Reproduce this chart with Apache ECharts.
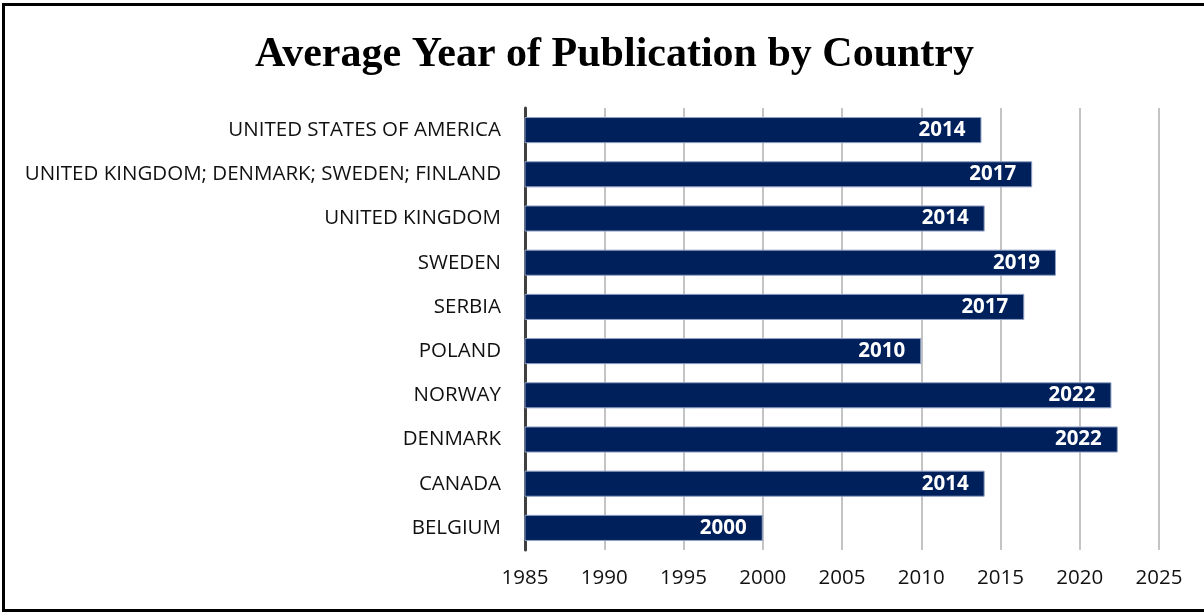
<!DOCTYPE html>
<html>
<head>
<meta charset="utf-8">
<script src="https://cdn.jsdelivr.net/npm/echarts@6/dist/echarts.min.js"></script>
<style>
  html, body { margin: 0; padding: 0; background: #ffffff; }
  #frame {
    position: absolute; left: 2px; top: 3px; width: 1210px; height: 609px;
    box-sizing: border-box; border: 3px solid #000; border-right: none;
  }
  #chart { position: absolute; left: 0; top: 0; width: 1204px; height: 612px; }
</style>
</head>
<body>
<div id="frame"></div>
<div id="chart"></div>
<script>
// Countries, listed bottom to top as the category axis draws them
const countries = [
  'BELGIUM', 'CANADA', 'DENMARK', 'NORWAY', 'POLAND', 'SERBIA', 'SWEDEN',
  'UNITED KINGDOM', 'UNITED KINGDOM; DENMARK; SWEDEN; FINLAND', 'UNITED STATES OF AMERICA'
];
// Average publication year per country
const avgYear = [2000.0, 2014.0, 2022.4, 2022.0, 2010.0, 2016.5, 2018.5, 2014.0, 2017.0, 2013.8];
// Year axis range and step
const yearMin = 1985;
const yearMax = 2025;
const yearStep = 5;

const chart = echarts.init(document.getElementById('chart'));
chart.setOption({
  animation: false,
  title: {
    text: 'Average Year of Publication by Country',
    left: 250, top: 29,
    textStyle: { fontFamily: 'Liberation Serif', fontWeight: 'bold', fontSize: 42, color: '#000' }
  },
  grid: { left: 525, right: 45, top: 108, bottom: 62, containLabel: false },
  xAxis: {
    type: 'value', min: yearMin, max: yearMax, interval: yearStep,
    axisLine: { show: false }, axisTick: { show: false },
    axisLabel: {
      color: '#111', fontFamily: 'Open Sans', fontSize: 20.5, margin: 18,
      formatter: v => String(v)
    },
    splitLine: { lineStyle: { color: '#c4c4c4', width: 2 } }
  },
  yAxis: {
    type: 'category', data: countries,
    axisLine: { show: true, onZero: false, lineStyle: { color: '#404040', width: 3 } },
    axisTick: { show: false },
    axisLabel: { color: '#111', fontFamily: 'Open Sans', fontSize: 20.5, margin: 24 }
  },
  series: [{
    type: 'bar', data: avgYear, barWidth: '59%',
    itemStyle: { color: '#00205b', borderColor: '#8fa0c4', borderWidth: 1 },
    label: {
      show: true, position: 'insideRight', distance: 16,
      color: '#fff', fontFamily: 'Open Sans', fontWeight: 'bold', fontSize: 20.5,
      formatter: p => String(Math.round(p.value))
    }
  }]
});
</script>
</body>
</html>
